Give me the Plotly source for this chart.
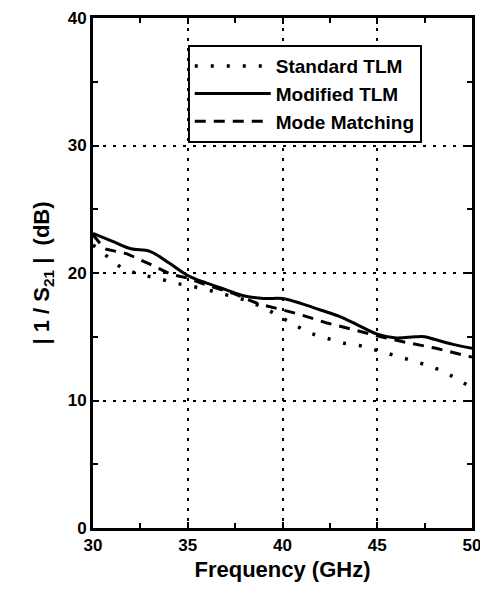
import plotly.graph_objects as go

freq_std = [30, 30.6, 31.5, 32.4, 33.4, 34.3, 35.1, 36, 37, 38, 39, 39.6, 40.5, 41.4, 42.3, 43.2, 44.1, 45.1, 46, 46.9, 47.8, 48.6, 49.5, 50]
std_tlm = [22.2, 21.5, 20.4, 19.9, 19.6, 19.2, 19.0, 18.7, 18.3, 17.9, 17.3, 16.8, 16.0, 15.3, 14.9, 14.5, 14.3, 13.9, 13.5, 13.1, 12.7, 12.2, 11.4, 11.0]

freq_mod = [30, 31, 32, 33, 34, 35, 36, 37, 38, 39, 40, 41, 42, 43, 44, 45, 46, 47, 47.5, 48, 49, 50]
mod_tlm = [23.1, 22.5, 21.9, 21.7, 20.8, 19.8, 19.2, 18.7, 18.2, 18.0, 18.0, 17.6, 17.1, 16.6, 15.9, 15.2, 14.9, 15.0, 15.0, 14.8, 14.4, 14.1]

freq_mm = [30, 30.6, 31.8, 33, 34.1, 35, 36.1, 37.4, 38.7, 39.8, 40.8, 42.3, 43.8, 45.2, 46.7, 48.1, 49.7, 50]
mode_match = [23.0, 21.9, 21.5, 20.7, 19.9, 19.6, 19.0, 18.4, 17.6, 17.2, 16.8, 16.1, 15.5, 15.0, 14.5, 14.1, 13.5, 13.4]

x_ticks = [30, 35, 40, 45, 50]
y_ticks = [0, 10, 20, 30, 40]
x_minor = [32.5, 37.5, 42.5, 47.5]
y_minor = [5, 15, 25, 35]

font = "Liberation Sans, Arial, sans-serif"

fig = go.Figure()
fig.add_trace(go.Scatter(x=freq_std, y=std_tlm, mode="lines", name="Standard TLM",
                         line=dict(color="black", width=3.5, dash="3px,13px")))
fig.add_trace(go.Scatter(x=freq_mod, y=mod_tlm, mode="lines", name="Modified TLM",
                         line=dict(color="black", width=3, shape="spline")))
fig.add_trace(go.Scatter(x=freq_mm, y=mode_match, mode="lines", name="Mode Matching",
                         line=dict(color="black", width=3, dash="11px,8px")))

axis_common = dict(
    showline=True, linecolor="black", linewidth=3, mirror="ticks",
    ticks="inside", ticklen=6, tickwidth=2, tickcolor="black",
    showgrid=True, gridcolor="black", gridwidth=2, griddash="3px,7px",
    zeroline=False, automargin=False, ticklabeloverflow="allow",
    tickfont=dict(family=font, size=17, color="black", weight="bold"),
)

fig.update_xaxes(range=[30, 50], tickmode="array", tickvals=x_ticks, ticktext=[str(v) for v in x_ticks],
                 minor=dict(tickmode="array", tickvals=x_minor, ticks="inside", ticklen=5, tickwidth=2,
                            tickcolor="black", showgrid=False),
                 title=dict(text="Frequency (GHz)", font=dict(family=font, size=22, color="black", weight="bold"), standoff=8),
                 **axis_common)
fig.update_yaxes(range=[0, 40], tickmode="array", tickvals=y_ticks, ticktext=[str(v) for v in y_ticks],
                 minor=dict(tickmode="array", tickvals=y_minor, ticks="inside", ticklen=5, tickwidth=2,
                            tickcolor="black", showgrid=False),
                 title=dict(text="| 1 / S<sub>21</sub> |  (dB)", font=dict(family=font, size=22, color="black", weight="bold"), standoff=12),
                 **axis_common)

fig.update_layout(
    width=480, height=584,
    margin=dict(l=85, r=16, t=10, b=64),
    plot_bgcolor="white", paper_bgcolor="white",
    showlegend=True,
    legend=dict(x=0.25, y=0.947, xanchor="left", yanchor="top",
                bgcolor="white", bordercolor="black", borderwidth=2,
                font=dict(family=font, size=19, color="black", weight="bold"),
                itemwidth=76, tracegroupgap=0),
)

fig.write_html("out.html")
